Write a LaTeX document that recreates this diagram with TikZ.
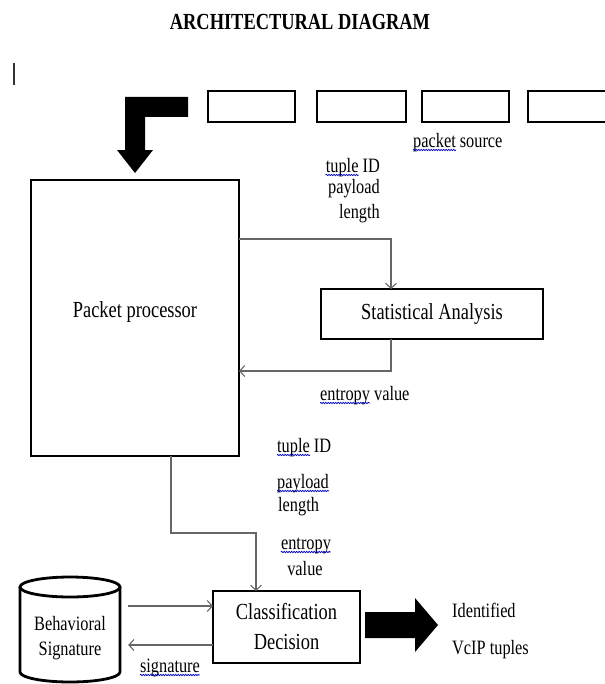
\documentclass[tikz,border=0pt]{standalone}
\usepackage{fontspec}
\setmainfont{Liberation Serif}[FakeStretch=0.8]
\usetikzlibrary{arrows.meta,decorations.pathmorphing}
\begin{document}
\begin{tikzpicture}[x=1bp,y=-1bp,
  blk/.style={draw, line width=2.8bp, inner sep=0pt, outer sep=0pt},
  conn/.style={draw=black!60, line width=1.1bp, -{Straight Barb[length=5bp,width=11bp]}},
  lbl/.style={inner sep=0pt, font=\fontsize{20.4bp}{24bp}\selectfont},
  bigtxt/.style={inner sep=0pt, font=\fontsize{23bp}{30bp}\selectfont, align=center},
  squig/.style={draw=blue!70!black, line width=0.7bp, decorate, decoration={snake, amplitude=0.7bp, segment length=2.5bp}},
  blockarrow/.style={fill=black}
]
\useasboundingbox (0,0) rectangle (605,684);
\clip (0,0) rectangle (605,684);
\fill[white] (0,0) rectangle (605,684);

\node[font=\fontsize{23bp}{27bp}\selectfont\bfseries, inner sep=0pt, anchor=base] (title) at (300,30) {ARCHITECTURAL DIAGRAM};
\draw[line width=1.5bp, black!80] (14,63) -- (14,85);

% packet source boxes
\node[blk, minimum width=87bp, minimum height=31bp] (s1) at (251.5,106.5) {};
\node[blk, minimum width=89bp, minimum height=31bp] (s2) at (361.5,106.5) {};
\node[blk, minimum width=87bp, minimum height=31bp] (s3) at (465.5,106.5) {};
\node[blk, minimum width=92bp, minimum height=31bp] (s4) at (574,106.5) {};
\node[lbl, anchor=base west] (psrc) at (413,147) {packet source};

% bent block arrow
\fill[blockarrow] (188,97) -- (125,97) -- (125,150) -- (117,150) -- (135,173) -- (153,150) -- (145,150) -- (145,117) -- (188,117) -- cycle;

% packet processor
\node[blk, minimum width=208bp, minimum height=276bp] (pp) at (135,318) {};
\node[bigtxt] (pptxt) at (135,312) {Packet processor};

% labels top
\node[lbl, anchor=base east] (l1) at (380,172) {tuple ID};
\node[lbl, anchor=base east] (l2) at (380,193) {payload};
\node[lbl, anchor=base east] (l3) at (380,218) {length};

% statistical analysis
\node[blk, minimum width=222bp, minimum height=50bp, font=\fontsize{23bp}{30bp}\selectfont] (stat) at (432,314) {Statistical Analysis};
\draw[conn] (pp.east |- 0,239) -| (391,0 |- stat.north);
\draw[conn] (391,0 |- stat.south) |- (pp.east |- 0,371);
\node[lbl, anchor=base west] (ev) at (320,400) {entropy value};

% lower labels
\node[lbl, anchor=base west] (t2) at (277,452) {tuple ID};
\node[lbl, anchor=base west] (p2) at (277,488) {payload};
\node[lbl, anchor=base west] (len2) at (278,511) {length};
\node[lbl, anchor=base] (e2) at (306,549) {entropy};
\node[lbl, anchor=base] (v2) at (305,575) {value};

% classification
\node[blk, minimum width=147bp, minimum height=72bp, font=\fontsize{23bp}{30bp}\selectfont, align=center] (cls) at (286.5,627) {Classification\\Decision};
\draw[conn] (171,0 |- pp.south) -- (171,533) -- (256,533) -- (256,0 |- cls.north);

% behavioral signature cylinder
\node[minimum width=100bp, minimum height=105bp, inner sep=0pt] (cyl) at (70,629.5) {};
\draw[line width=2.8bp] (20,587) -- (20,672) arc[start angle=180, end angle=360, x radius=50bp, y radius=10bp] -- (120,587);
\draw[line width=2.8bp] (70,587) ellipse [x radius=50bp, y radius=10bp];
\node[lbl, anchor=base] (beh1) at (70,630) {Behavioral};
\node[lbl, anchor=base] (beh2) at (70,655) {Signature};
\coordinate (cylR) at ([xshift=8bp]cyl.east);
\draw[conn] (cylR |- 0,606) -- (cls.west |- 0,606);
\draw[conn] (cls.west |- 0,645) -- (cylR |- 0,645);
\node[lbl, anchor=base] (sig) at (170,672) {signature};

% output block arrow
\fill[blockarrow] (365,612) -- (415,612) -- (415,598) -- (438,625) -- (415,652) -- (415,638) -- (365,638) -- cycle;
\node[lbl, anchor=base west] (id1) at (452,617) {Identified};
\node[lbl, anchor=base west] (id2) at (452,654) {VcIP tuples};

% spell-check squiggles
\draw[squig] ([yshift=-3bp]psrc.base west) -- ++(43,0);
\draw[squig] ([yshift=-3bp]l1.base west) -- ++(33,0);
\draw[squig] ([yshift=-3bp]ev.base west) -- ++(50,0);
\draw[squig] ([yshift=-3bp]t2.base west) -- ++(33,0);
\draw[squig] ([yshift=-3bp]p2.base west) -- ++(52,0);
\draw[squig] ([yshift=-3bp]e2.base west) -- ++(50,0);
\draw[squig] ([yshift=-3bp]sig.base west) -- ++(60,0);
\end{tikzpicture}
\end{document}
